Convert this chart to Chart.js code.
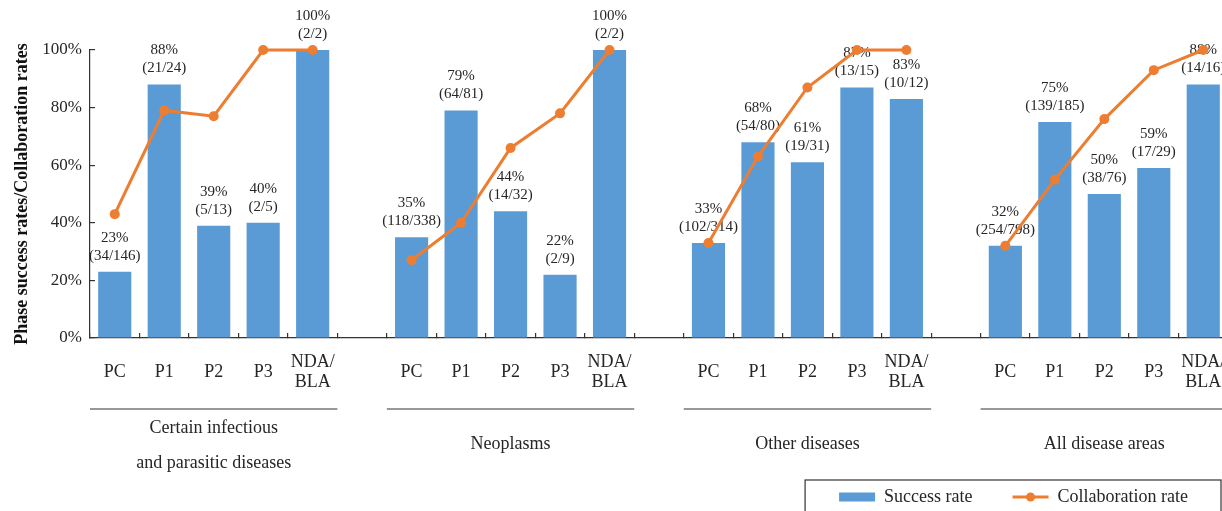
<!DOCTYPE html>
<html>
<head>
<meta charset="utf-8">
<title>Phase success and collaboration rates</title>
<script src="https://cdn.jsdelivr.net/npm/chart.js@4.4.1/dist/chart.umd.min.js"></script>
<style>
  html, body { margin: 0; padding: 0; background: #fff; overflow: hidden; }
  canvas { display: block; }
</style>
</head>
<body>
<canvas id="phaseChart" width="1228" height="516"></canvas>
<script>
// Disease areas and development phases
const groups = [['Certain infectious', 'and parasitic diseases'], 'Neoplasms', 'Other diseases', 'All disease areas'];
const phases = ['PC', 'P1', 'P2', 'P3', ['NDA/', 'BLA']];

// Phase success rate (%) with the counts behind it
const successRate = [[23, 88, 39, 40, 100], [35, 79, 44, 22, 100], [33, 68, 61, 87, 83], [32, 75, 50, 59, 88]];
const passed      = [[34, 21, 5, 2, 2], [118, 64, 14, 2, 2], [102, 54, 19, 13, 10], [254, 139, 38, 17, 14]];
const entered     = [[146, 24, 13, 5, 2], [338, 81, 32, 9, 2], [314, 80, 31, 15, 12], [798, 185, 76, 29, 16]];

// Collaboration rate (%)
const collabRate  = [[43, 79, 77, 100, 100], [27, 40, 66, 78, 100], [33, 63, 87, 100, 100], [32, 55, 76, 93, 100]];

const yTicks = [0, 20, 40, 60, 80, 100];

const BLUE = '#5b9bd5';
const ORANGE = '#ed7d31';
const TEXT = '#262626';
const SERIF = "'Liberation Serif', 'Times New Roman', serif";

// flatten groups into one category axis with an empty slot between groups
function flatten(rows) {
    const out = [];
    rows.forEach((row, g) => {
        row.forEach(v => out.push(v));
        if (g < rows.length - 1) out.push(null);
    });
    return out;
}
const labels = flatten(groups.map(() => phases)).map(l => l == null ? '' : l);
const successData = flatten(successRate);
const passedData = flatten(passed);
const enteredData = flatten(entered);
const collabData = flatten(collabRate);

// two-line value labels above each bar (drawn before the line so it sits on top)
const barLabels = {
    id: 'barLabels',
    afterDatasetDraw(chart, args) {
        if (args.index !== 0) return;
        const ctx = chart.ctx;
        ctx.save();
        ctx.font = '15px ' + SERIF;
        ctx.fillStyle = TEXT;
        ctx.textAlign = 'center';
        ctx.textBaseline = 'middle';
        args.meta.data.forEach((bar, i) => {
            if (successData[i] == null) return;
            ctx.fillText(successData[i] + '%', bar.x, bar.y - 34);
            ctx.fillText('(' + passedData[i] + '/' + enteredData[i] + ')', bar.x, bar.y - 16);
        });
        ctx.restore();
    }
};

// group rules + names under the phase labels, legend frame and marker dot
const groupAxis = {
    id: 'groupAxis',
    afterDraw(chart) {
        const ctx = chart.ctx;
        const x = chart.scales.x;
        const step = x.getPixelForValue(1) - x.getPixelForValue(0);
        const base = chart.chartArea.bottom;
        ctx.save();
        ctx.strokeStyle = '#333';
        ctx.lineWidth = 1.2;
        ctx.font = '18px ' + SERIF;
        ctx.fillStyle = TEXT;
        ctx.textAlign = 'center';
        ctx.textBaseline = 'middle';
        groups.forEach((name, g) => {
            const first = g * (phases.length + 1);
            const last = first + phases.length - 1;
            const x0 = x.getPixelForValue(first) - step / 2;
            const x1 = x.getPixelForValue(last) + step / 2;
            ctx.beginPath();
            ctx.moveTo(x0, base + 71);
            ctx.lineTo(x1, base + 71);
            ctx.stroke();
            const lines = [].concat(name);
            const cx = (x0 + x1) / 2;
            if (lines.length === 1) {
                ctx.fillText(lines[0], cx, base + 106);
            } else {
                lines.forEach((t, k) => ctx.fillText(t, cx, base + 90 + k * 35));
            }
        });

        const boxes = chart.legend.legendHitBoxes;
        if (boxes && boxes.length === 2) {
            const lx0 = boxes[0].left - 34;
            const lx1 = boxes[1].left + boxes[1].width + 33;
            const ly0 = boxes[0].top - 8;
            ctx.strokeRect(lx0, ly0, lx1 - lx0, 40);
            ctx.fillStyle = ORANGE;
            ctx.beginPath();
            ctx.arc(boxes[1].left + 18, boxes[1].top + 9, 4.5, 0, Math.PI * 2);
            ctx.fill();
        }
        ctx.restore();
    }
};

new Chart(document.getElementById('phaseChart'), {
    type: 'bar',
    data: {
        labels: labels,
        datasets: [{
            label: 'Success rate',
            data: successData,
            backgroundColor: BLUE,
            barPercentage: 0.67,
            categoryPercentage: 1.0,
            order: 1
        }, {
            type: 'line',
            label: 'Collaboration rate',
            data: collabData,
            borderColor: ORANGE,
            backgroundColor: ORANGE,
            borderWidth: 3,
            pointRadius: 5,
            pointHoverRadius: 5,
            pointBackgroundColor: ORANGE,
            pointBorderWidth: 0,
            spanGaps: false,
            tension: 0,
            clip: false,
            order: 0
        }]
    },
    options: {
        responsive: false,
        animation: false,
        layout: { autoPadding: false, padding: { top: 50, left: 0, right: 0, bottom: 0 } },
        plugins: {
            tooltip: { enabled: false },
            legend: {
                position: 'bottom',
                align: 'end',
                labels: {
                    font: { family: SERIF, size: 18 },
                    color: TEXT,
                    usePointStyle: true,
                    pointStyleWidth: 36,
                    boxHeight: 9,
                    padding: 40,
                    sort: (a, b) => a.datasetIndex - b.datasetIndex,
                    generateLabels(chart) {
                        const items = Chart.defaults.plugins.legend.labels.generateLabels(chart);
                        items.forEach(it => {
                            if (it.datasetIndex === 0) {
                                it.pointStyle = 'rect';
                                it.lineWidth = 0;
                                it.fillStyle = BLUE;
                                it.strokeStyle = BLUE;
                            } else {
                                it.pointStyle = 'line';
                                it.lineWidth = 3;
                                it.strokeStyle = ORANGE;
                                it.fillStyle = ORANGE;
                            }
                        });
                        return items;
                    }
                }
            }
        },
        scales: {
            x: {
                offset: true,
                grid: { offset: true, drawOnChartArea: false, tickLength: -5, color: '#333', lineWidth: 1.2 },
                border: { color: '#333', width: 1.2 },
                ticks: {
                    font: { family: SERIF, size: 18, lineHeight: 1.1 },
                    color: TEXT,
                    padding: 29,
                    autoSkip: false,
                    maxRotation: 0,
                    crossAlign: 'center'
                },
                afterFit(scale) {
                    scale.height = 110;
                    // axis runs to the canvas edge; no room kept for edge labels
                    scale.paddingLeft = 0;
                    scale.paddingRight = 0;
                }
            },
            y: {
                min: yTicks[0],
                max: yTicks[yTicks.length - 1],
                afterBuildTicks(scale) { scale.ticks = yTicks.map(v => ({ value: v })); },
                ticks: {
                    callback: v => v + '%',
                    font: { family: SERIF, size: 17 },
                    color: TEXT,
                    padding: 13
                },
                grid: { drawOnChartArea: false, tickLength: -5, color: '#333', lineWidth: 1.2 },
                border: { color: '#333', width: 1.2 },
                title: {
                    display: true,
                    text: 'Phase success rates/Collaboration rates',
                    font: { family: SERIF, size: 18, weight: 'bold' },
                    color: '#111',
                    padding: { top: 12, bottom: 0 }
                },
                afterFit(scale) { scale.width = 90; }
            }
        }
    },
    plugins: [barLabels, groupAxis]
});
</script>
</body>
</html>
